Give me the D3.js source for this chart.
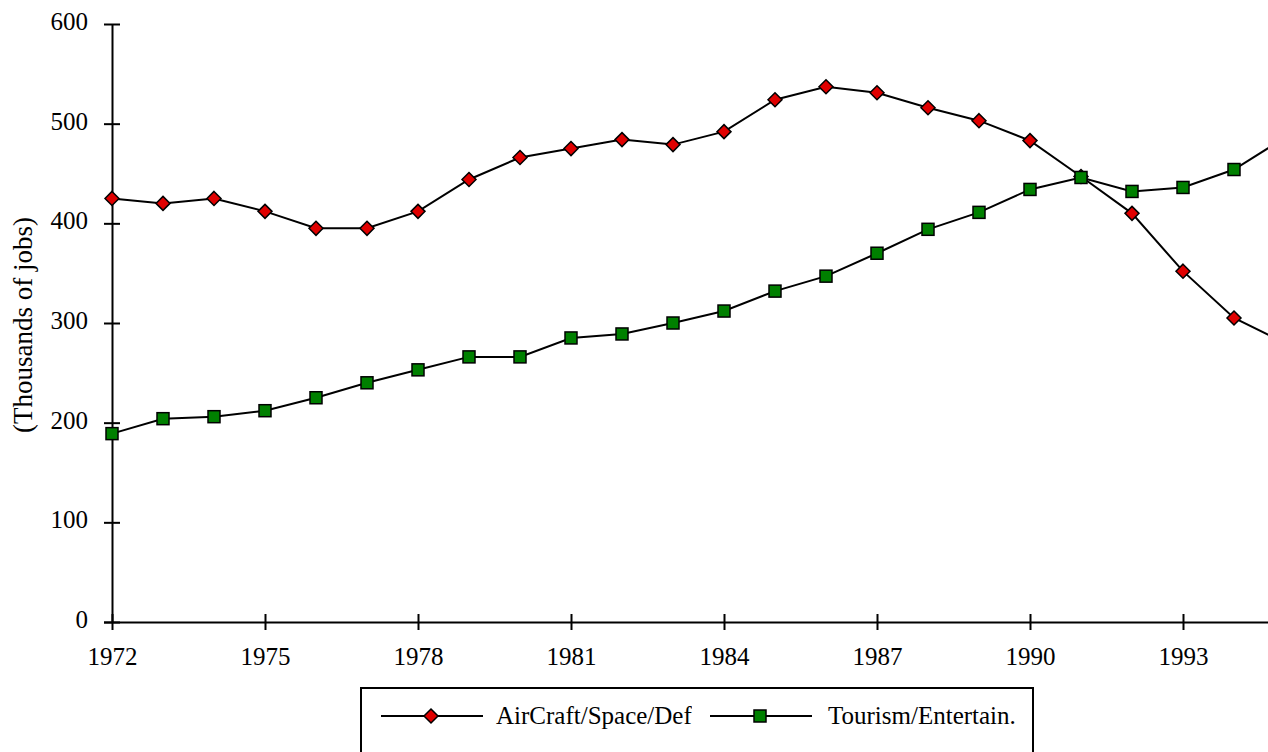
<!DOCTYPE html>
<html>
<head>
<meta charset="utf-8">
<script src="https://cdn.jsdelivr.net/npm/d3@7"></script>
<style>
  body { margin: 0; background: #fff; }
  .axis path, .axis line { stroke: #000; stroke-width: 2; }
</style>
</head>
<body>
<script>
// data
var years = d3.range(1972, 1996);
var aircraft = [425, 420, 425, 412, 395, 395, 412, 444, 466, 475, 484, 479,
                492, 524, 537, 531, 516, 503, 483, 447, 410, 352, 305, 280];
var tourism = [189, 204, 206, 212, 225, 240, 253, 266, 266, 285, 289, 300,
               312, 332, 347, 370, 394, 411, 434, 446, 432, 436, 454, 486];
var xTicks = [1972, 1975, 1978, 1981, 1984, 1987, 1990, 1993];
var yTicks = [0, 100, 200, 300, 400, 500, 600];
var seriesNames = ["AirCraft/Space/Def", "Tourism/Entertain."];

var svgWidth = 1268;
var svgHeight = 752;
var fontFamily = "'Liberation Serif', 'DejaVu Serif', serif";
var fontSize = 25;

var svg = d3.select("body")
  .append("svg")
  .attr("width", svgWidth)
  .attr("height", svgHeight)
  .attr("font-family", fontFamily);

// scales
var x = d3.scaleLinear()
  .domain([1972, 1995])
  .range([112, 112 + 23 * 51]);

var y = d3.scaleLinear()
  .domain([0, 600])
  .range([622, 24]);

// y axis, ticks cross the line
var yAxis = svg.append("g")
  .attr("class", "axis")
  .attr("transform", "translate(112,0)")
  .call(d3.axisLeft(y).tickValues(yTicks).tickSize(8).tickSizeOuter(0).tickPadding(16));
yAxis.selectAll(".tick line").attr("x1", 8);
yAxis.attr("font-family", fontFamily).attr("font-size", fontSize);
yAxis.selectAll("text").attr("dy", "0.22em").attr("fill", "#000");

// x axis
var xAxis = svg.append("g")
  .attr("class", "axis")
  .attr("transform", "translate(0,622)")
  .call(d3.axisBottom(x).tickValues(xTicks).tickFormat(d3.format("d")).tickSize(8).tickSizeOuter(0).tickPadding(17));
xAxis.selectAll(".tick line").attr("y1", -8);
xAxis.select(".domain").attr("d", "M104,0.5H" + svgWidth);
xAxis.attr("font-family", fontFamily).attr("font-size", fontSize);
xAxis.selectAll("text").attr("fill", "#000");

// y title
svg.append("text")
  .attr("transform", "translate(32,325) rotate(-90)")
  .attr("text-anchor", "middle")
  .attr("font-size", 27)
  .text("(Thousands of jobs)");

// lines
var line = d3.line()
  .x(function(d, i) { return x(years[i]); })
  .y(function(d) { return y(d); });

svg.append("path")
  .attr("d", line(aircraft))
  .attr("fill", "none")
  .attr("stroke", "#000")
  .attr("stroke-width", 2);

svg.append("path")
  .attr("d", line(tourism))
  .attr("fill", "none")
  .attr("stroke", "#000")
  .attr("stroke-width", 2);

var diamond = "M0,-7L7,0L0,7L-7,0Z";

svg.selectAll(".diamond")
  .data(aircraft)
  .enter()
  .append("path")
  .attr("class", "diamond")
  .attr("d", diamond)
  .attr("transform", function(d, i) { return "translate(" + x(years[i]) + "," + y(d) + ")"; })
  .attr("fill", "#e00000")
  .attr("stroke", "#000")
  .attr("stroke-width", 1.5);

svg.selectAll(".square")
  .data(tourism)
  .enter()
  .append("rect")
  .attr("class", "square")
  .attr("x", function(d, i) { return x(years[i]) - 6; })
  .attr("y", function(d) { return y(d) - 6; })
  .attr("width", 12)
  .attr("height", 12)
  .attr("fill", "#008000")
  .attr("stroke", "#000")
  .attr("stroke-width", 1.5);

// legend
var legend = svg.append("g");

legend.append("rect")
  .attr("x", 361)
  .attr("y", 688)
  .attr("width", 672)
  .attr("height", 100)
  .attr("fill", "#fff")
  .attr("stroke", "#000")
  .attr("stroke-width", 2);

svg.append("clipPath")
  .attr("id", "clip1")
  .append("rect")
  .attr("x", 490).attr("y", 690).attr("width", 202).attr("height", 50);

var ly = 716;
legend.append("line").attr("x1", 381).attr("x2", 483).attr("y1", ly).attr("y2", ly)
  .attr("stroke", "#000").attr("stroke-width", 2);
legend.append("path").attr("d", diamond).attr("transform", "translate(431," + ly + ")")
  .attr("fill", "#e00000").attr("stroke", "#000").attr("stroke-width", 1.5);
legend.append("text").attr("x", 496).attr("y", ly + 8).attr("clip-path", "url(#clip1)")
  .attr("font-size", fontSize).text(seriesNames[0]);

legend.append("line").attr("x1", 710).attr("x2", 812).attr("y1", ly).attr("y2", ly)
  .attr("stroke", "#000").attr("stroke-width", 2);
legend.append("rect").attr("x", 754).attr("y", ly - 6).attr("width", 12).attr("height", 12)
  .attr("fill", "#008000").attr("stroke", "#000").attr("stroke-width", 1.5);
legend.append("text").attr("x", 828).attr("y", ly + 8)
  .attr("font-size", fontSize).text(seriesNames[1]);
</script>
</body>
</html>
